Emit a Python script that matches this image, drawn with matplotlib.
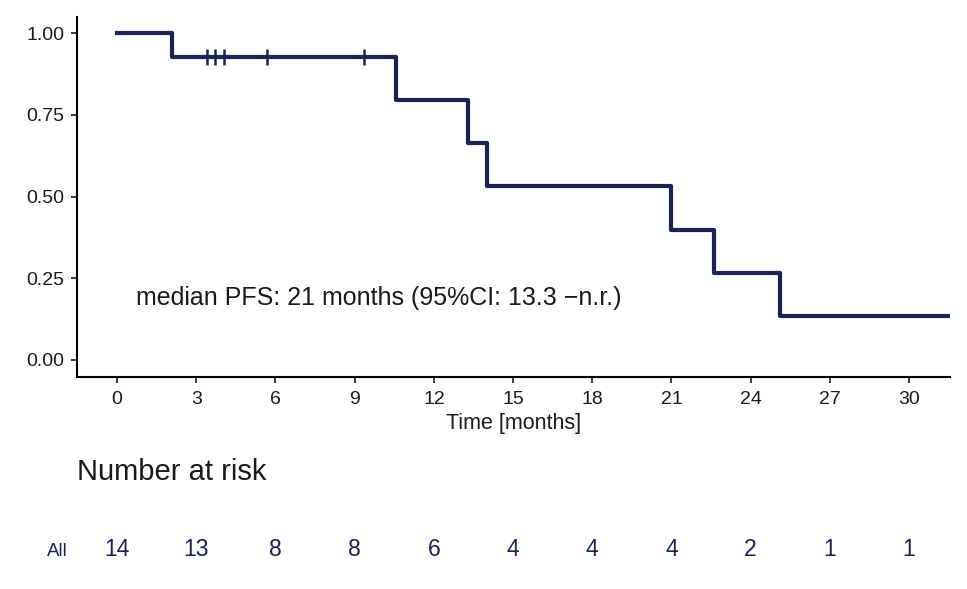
import numpy as np
import matplotlib.pyplot as plt

plt.rcParams['font.family'] = ['Liberation Sans', 'DejaVu Sans']

# step times (months) and survival after each step
event_t = [0, 2.09, 10.58, 13.31, 14.0, 21.0, 22.6, 25.1]
surv = [1.0, 0.929, 0.797, 0.663, 0.531, 0.398, 0.265, 0.133]
censor_t = [3.41, 3.72, 4.06, 5.69, 9.37]
end_t = 31.6

risk_t = [0, 3, 6, 9, 12, 15, 18, 21, 24, 27, 30]
risk_n = [14, 13, 8, 8, 6, 4, 4, 4, 2, 1, 1]

navy = '#1b2353'
dark = '#1a1a1a'

fig = plt.figure(figsize=(9.67, 5.89), dpi=100)
ax = fig.add_axes([0.0796, 0.360, 0.9028, 0.611])

ax.step(event_t + [end_t], surv + [surv[-1]], where='post', color=navy, lw=3)
cs = [surv[np.searchsorted(event_t, c, side='right') - 1] for c in censor_t]
ax.plot(censor_t, cs, '+', color=navy, ms=12, mew=1.8)

ax.text(0.72, 0.19, 'median PFS: 21 months (95%CI: 13.3 \u2212n.r.)', fontsize=18,
        color=dark, va='center')

ax.set_xlim(-1.52, 31.55)
ax.set_ylim(-0.053, 1.05)
ax.set_xticks(range(0, 31, 3))
ax.set_yticks([0, 0.25, 0.5, 0.75, 1.0])
ax.set_yticklabels(['0.00', '0.25', '0.50', '0.75', '1.00'])
ax.tick_params(labelsize=14, colors=dark, length=4, width=1.2)
ax.tick_params(axis='y', pad=5)
ax.tick_params(axis='x', pad=6)
ax.set_xlabel('Time [months]', fontsize=15.5, color=dark, labelpad=4)
for s in ['top', 'right']:
    ax.spines[s].set_visible(False)
for s in ['left', 'bottom']:
    ax.spines[s].set_linewidth(1.5)

# number at risk table
rx = fig.add_axes([0.0796, 0.032, 0.9028, 0.07])
rx.set_xlim(ax.get_xlim())
rx.set_ylim(0, 1)
for t, n in zip(risk_t, risk_n):
    rx.text(t, 0.5, str(n), ha='center', va='center', fontsize=16.5, color=navy)
rx.set_xticks([])
rx.set_yticks([0.5])
rx.set_yticklabels(['All'], fontsize=13.5, color=navy)
rx.tick_params(axis='y', length=0, pad=7)
for s in rx.spines.values():
    s.set_visible(False)
fig.text(0.0796, 0.198, 'Number at risk', fontsize=21, color=dark, va='center')

fig.savefig('out.png', dpi=100)
